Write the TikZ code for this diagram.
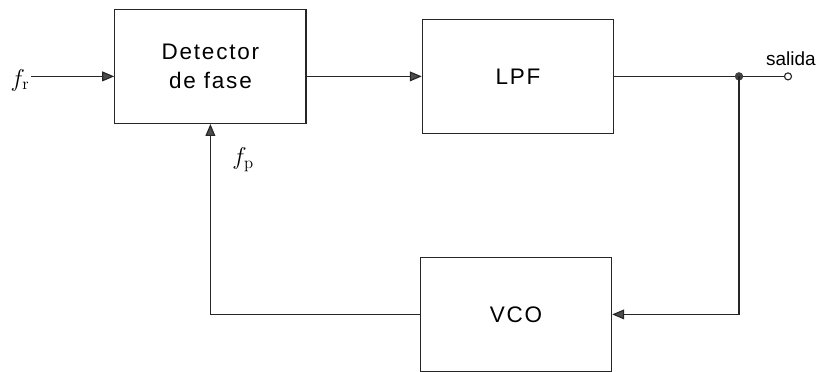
\documentclass[tikz,border=0pt]{standalone}
\usepackage{fontspec}
\usepackage{amsmath}
\newfontfamily\blockfont[LetterSpace=8]{Liberation Sans}
\newfontfamily\labelfont{Liberation Sans}
\usetikzlibrary{arrows.meta,calc,positioning}

\begin{document}
\begin{tikzpicture}[
  >={Triangle[length=8.5pt, width=7pt, fill=black!70]},
  block/.style={draw=black!85, line width=0.9pt, minimum width=4.78cm, minimum height=2.85cm,
                inner sep=4pt, align=center, font=\blockfont\fontsize{16}{21}\selectfont},
  wire/.style={draw=black!85, line width=0.8pt},
  arr/.style={wire, ->},
  sig/.style={font=\fontsize{17}{19}\selectfont, inner sep=1pt},
]
\useasboundingbox (0,0) rectangle (20.475,-9.3);

% ===== Blocks =====
\node[block] (det) at (5.26, -1.66) {Detector\\de fase};
\node[block] (lpf) at (12.95, -1.91) {LPF};
\node[block] (vco) at (12.9, -7.86) {VCO};

% ===== Input =====
\node[sig] (fr) at (0.5, -2.0) {$f_{\mathrm{r}}$};
\draw[arr] (fr.east |- lpf.west) -- (det.west |- lpf.west);

% ===== Forward path =====
\draw[arr] (det.east |- lpf.west) -- (lpf.west);

% ===== Output =====
\coordinate (jct) at (18.475, -1.91);
\node[draw=black!85, fill=white, circle, inner sep=0pt, minimum size=5pt, line width=0.8pt] (out) at (19.7, -1.91) {};
\node[font=\labelfont\fontsize{13.5}{16}\selectfont, anchor=south] (salida) at ([xshift=2pt, yshift=1pt]out.north) {salida};
\draw[wire] (lpf.east) -- (jct) -- (out.west);
\fill[black!75] (jct) circle (3pt);

% ===== Feedback =====
\draw[arr] (jct) |- (vco.east);
\draw[arr] (vco.west) -| (det.south);
\node[sig] (fp) at (6.08, -4.0) {$f_{\mathrm{p}}$};

\end{tikzpicture}
\end{document}
